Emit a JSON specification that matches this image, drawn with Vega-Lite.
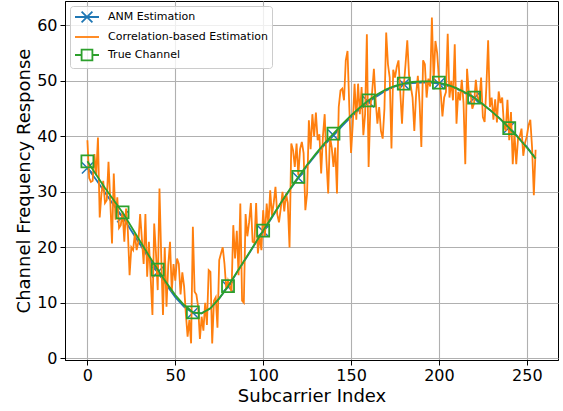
{
  "$schema": "https://vega.github.io/schema/vega-lite/v6.json",
  "width": 493,
  "height": 359,
  "autosize": {"type": "none"},
  "padding": {"left": 65, "top": 1, "right": 5, "bottom": 51},
  "background": "white",
  "config": {
    "font": "DejaVu Sans",
    "view": {"stroke": "black", "strokeWidth": 1},
    "axis": {
      "domainColor": "black", "domainWidth": 1,
      "tickColor": "black", "tickSize": 5, "tickWidth": 1,
      "labelFont": "DejaVu Sans", "labelFontSize": 16, "labelColor": "black",
      "titleFont": "DejaVu Sans", "titleFontSize": 18, "titleFontWeight": "normal", "titleColor": "black",
      "gridColor": "#b0b0b0", "gridWidth": 1.1
    }
  },
  "datasets": {
    "corr": [
      {"i":0,"v":39.3},{"i":1,"v":32.5},{"i":2,"v":31.8},{"i":3,"v":32.0},{"i":4,"v":36.8},{"i":5,"v":33.0},{"i":6,"v":39.8},{"i":7,"v":25.4},{"i":8,"v":29.7},{"i":9,"v":32.0},
      {"i":10,"v":28.0},{"i":11,"v":28.5},{"i":12,"v":35.4},{"i":13,"v":28.5},{"i":14,"v":20.7},{"i":15,"v":33.3},{"i":16,"v":25.0},{"i":17,"v":29.0},{"i":18,"v":23.5},{"i":19,"v":24.0},
      {"i":20,"v":26.5},{"i":21,"v":21.0},{"i":22,"v":27.0},{"i":23,"v":23.0},{"i":24,"v":15.0},{"i":25,"v":20.0},{"i":26,"v":19.5},{"i":27,"v":22.5},{"i":28,"v":19.5},{"i":29,"v":21.0},
      {"i":30,"v":26.0},{"i":31,"v":21.5},{"i":32,"v":17.0},{"i":33,"v":26.0},{"i":34,"v":14.7},{"i":35,"v":21.0},{"i":36,"v":14.5},{"i":37,"v":7.8},{"i":38,"v":24.3},{"i":39,"v":19.0},
      {"i":40,"v":12.3},{"i":41,"v":30.6},{"i":42,"v":18.3},{"i":43,"v":7.8},{"i":44,"v":20.0},{"i":45,"v":9.3},{"i":46,"v":16.8},{"i":47,"v":21.0},{"i":48,"v":12.0},{"i":49,"v":17.0},
      {"i":50,"v":14.0},{"i":51,"v":18.0},{"i":52,"v":17.0},{"i":53,"v":11.5},{"i":54,"v":15.5},{"i":55,"v":13.0},{"i":56,"v":8.1},{"i":57,"v":3.9},{"i":58,"v":6.9},{"i":59,"v":2.7},
      {"i":60,"v":23.7},{"i":61,"v":12.0},{"i":62,"v":11.5},{"i":63,"v":9.3},{"i":64,"v":3.5},{"i":65,"v":7.5},{"i":66,"v":5.0},{"i":67,"v":10.0},{"i":68,"v":6.0},{"i":69,"v":15.9},
      {"i":70,"v":15.6},{"i":71,"v":2.7},{"i":72,"v":10.4},{"i":73,"v":11.0},{"i":74,"v":5.5},{"i":75,"v":17.7},{"i":76,"v":18.9},{"i":77,"v":20.0},{"i":78,"v":17.0},{"i":79,"v":12.5},
      {"i":80,"v":14.0},{"i":81,"v":13.0},{"i":82,"v":12.0},{"i":83,"v":24.0},{"i":84,"v":18.0},{"i":85,"v":23.0},{"i":86,"v":15.0},{"i":87,"v":27.9},{"i":88,"v":10.4},{"i":89,"v":10.0},
      {"i":90,"v":26.0},{"i":91,"v":22.0},{"i":92,"v":24.5},{"i":93,"v":28.0},{"i":94,"v":21.0},{"i":95,"v":20.8},{"i":96,"v":28.0},{"i":97,"v":18.9},{"i":98,"v":22.0},{"i":99,"v":19.5},
      {"i":100,"v":26.7},{"i":101,"v":22.0},{"i":102,"v":27.9},{"i":103,"v":24.0},{"i":104,"v":30.3},{"i":105,"v":25.7},{"i":106,"v":28.0},{"i":107,"v":30.9},{"i":108,"v":26.0},{"i":109,"v":24.5},
      {"i":110,"v":27.0},{"i":111,"v":30.0},{"i":112,"v":26.5},{"i":113,"v":29.7},{"i":114,"v":28.0},{"i":115,"v":20.0},{"i":116,"v":38.7},{"i":117,"v":37.5},{"i":118,"v":34.5},{"i":119,"v":38.7},
      {"i":120,"v":33.0},{"i":121,"v":37.7},{"i":122,"v":39.0},{"i":123,"v":37.0},{"i":124,"v":26.7},{"i":125,"v":29.7},{"i":126,"v":42.9},{"i":127,"v":37.7},{"i":128,"v":44.0},{"i":129,"v":40.0},
      {"i":130,"v":44.3},{"i":131,"v":39.3},{"i":132,"v":40.4},{"i":133,"v":33.3},{"i":134,"v":40.0},{"i":135,"v":44.0},{"i":136,"v":35.7},{"i":137,"v":29.7},{"i":138,"v":40.0},{"i":139,"v":38.0},
      {"i":140,"v":34.5},{"i":141,"v":38.0},{"i":142,"v":29.7},{"i":143,"v":45.3},{"i":144,"v":48.3},{"i":145,"v":48.6},{"i":146,"v":46.5},{"i":147,"v":53.7},{"i":148,"v":55.4},{"i":149,"v":45.3},
      {"i":150,"v":37.0},{"i":151,"v":42.3},{"i":152,"v":49.5},{"i":153,"v":43.0},{"i":154,"v":49.5},{"i":155,"v":44.0},{"i":156,"v":48.9},{"i":157,"v":40.2},{"i":158,"v":44.0},{"i":159,"v":58.4},
      {"i":160,"v":34.5},{"i":161,"v":45.3},{"i":162,"v":48.0},{"i":163,"v":52.2},{"i":164,"v":46.5},{"i":165,"v":42.3},{"i":166,"v":45.3},{"i":167,"v":41.0},{"i":168,"v":39.6},{"i":169,"v":45.0},
      {"i":170,"v":58.7},{"i":171,"v":53.0},{"i":172,"v":50.6},{"i":173,"v":37.8},{"i":174,"v":52.0},{"i":175,"v":50.6},{"i":176,"v":52.5},{"i":177,"v":53.7},{"i":178,"v":48.0},{"i":179,"v":42.3},
      {"i":180,"v":49.0},{"i":181,"v":53.0},{"i":182,"v":57.3},{"i":183,"v":51.0},{"i":184,"v":49.0},{"i":185,"v":47.0},{"i":186,"v":41.0},{"i":187,"v":47.5},{"i":188,"v":50.9},{"i":189,"v":46.0},
      {"i":190,"v":38.1},{"i":191,"v":53.7},{"i":192,"v":53.0},{"i":193,"v":47.0},{"i":194,"v":50.4},{"i":195,"v":49.0},{"i":196,"v":61.4},{"i":197,"v":50.0},{"i":198,"v":57.2},{"i":199,"v":55.0},
      {"i":200,"v":50.4},{"i":201,"v":48.0},{"i":202,"v":43.6},{"i":203,"v":47.0},{"i":204,"v":48.0},{"i":205,"v":58.5},{"i":206,"v":47.0},{"i":207,"v":50.0},{"i":208,"v":46.5},{"i":209,"v":56.6},
      {"i":210,"v":42.3},{"i":211,"v":48.0},{"i":212,"v":46.5},{"i":213,"v":50.2},{"i":214,"v":46.0},{"i":215,"v":35.0},{"i":216,"v":52.2},{"i":217,"v":48.0},{"i":218,"v":47.8},{"i":219,"v":45.0},
      {"i":220,"v":46.0},{"i":221,"v":50.2},{"i":222,"v":47.0},{"i":223,"v":46.5},{"i":224,"v":50.6},{"i":225,"v":43.5},{"i":226,"v":42.6},{"i":227,"v":49.0},{"i":228,"v":57.3},{"i":229,"v":45.3},
      {"i":230,"v":47.0},{"i":231,"v":43.0},{"i":232,"v":46.7},{"i":233,"v":42.5},{"i":234,"v":48.1},{"i":235,"v":46.0},{"i":236,"v":47.0},{"i":237,"v":42.0},{"i":238,"v":41.0},{"i":239,"v":46.6},
      {"i":240,"v":39.3},{"i":241,"v":44.4},{"i":242,"v":35.0},{"i":243,"v":40.5},{"i":244,"v":35.0},{"i":245,"v":39.6},{"i":246,"v":40.0},{"i":247,"v":41.4},{"i":248,"v":36.5},{"i":249,"v":38.8},
      {"i":250,"v":40.0},{"i":251,"v":42.0},{"i":252,"v":43.0},{"i":253,"v":38.0},{"i":254,"v":29.4},{"i":255,"v":37.6}
    ],
    "curves": [
      {"i":0,"anm":34.3,"tru":35.5},{"i":5,"anm":32.2,"tru":33.1},{"i":10,"anm":29.9,"tru":30.7},{"i":15,"anm":27.6,"tru":28.5},
      {"i":20,"anm":25.5,"tru":26.3},{"i":25,"anm":23.0,"tru":23.7},{"i":30,"anm":20.5,"tru":21.1},{"i":35,"anm":18.0,"tru":18.5},
      {"i":40,"anm":15.5,"tru":16.0},{"i":45,"anm":13.2,"tru":13.6},{"i":50,"anm":11.0,"tru":11.4},{"i":55,"anm":9.3,"tru":9.6},
      {"i":60,"anm":8.2,"tru":8.3},{"i":65,"anm":8.1,"tru":8.1},{"i":70,"anm":9.0,"tru":9.0},{"i":75,"anm":10.8,"tru":10.8},
      {"i":80,"anm":12.9,"tru":13.0},{"i":85,"anm":15.4,"tru":15.5},{"i":90,"anm":17.9,"tru":18.0},{"i":95,"anm":20.4,"tru":20.5},
      {"i":100,"anm":22.9,"tru":23.0},{"i":105,"anm":25.4,"tru":25.5},{"i":110,"anm":27.9,"tru":28.0},{"i":115,"anm":30.3,"tru":30.4},
      {"i":120,"anm":32.5,"tru":32.7},{"i":125,"anm":34.7,"tru":34.9},{"i":130,"anm":36.7,"tru":36.9},{"i":135,"anm":38.5,"tru":38.8},
      {"i":140,"anm":40.2,"tru":40.5},{"i":145,"anm":41.9,"tru":42.2},{"i":150,"anm":43.5,"tru":43.8},{"i":155,"anm":44.9,"tru":45.2},
      {"i":160,"anm":46.2,"tru":46.5},{"i":165,"anm":47.3,"tru":47.6},{"i":170,"anm":48.3,"tru":48.5},{"i":175,"anm":49.0,"tru":49.1},
      {"i":180,"anm":49.4,"tru":49.5},{"i":185,"anm":49.6,"tru":49.8},{"i":190,"anm":49.7,"tru":49.9},{"i":195,"anm":49.7,"tru":49.9},
      {"i":200,"anm":49.5,"tru":49.7},{"i":205,"anm":49.1,"tru":49.3},{"i":210,"anm":48.6,"tru":48.7},{"i":215,"anm":47.8,"tru":47.9},
      {"i":220,"anm":46.9,"tru":47.0},{"i":225,"anm":45.8,"tru":45.8},{"i":230,"anm":44.5,"tru":44.5},{"i":235,"anm":43.1,"tru":43.1},
      {"i":240,"anm":41.6,"tru":41.5},{"i":245,"anm":39.9,"tru":39.8},{"i":250,"anm":38.1,"tru":38.0},{"i":255,"anm":36.1,"tru":36.0}
    ]
  },
  "encoding": {
    "x": {
      "field": "i", "type": "quantitative",
      "scale": {"domain": [-12.75, 267.75], "nice": false, "zero": false},
      "axis": {"values": [0, 50, 100, 150, 200, 250], "title": "Subcarrier Index", "labelPadding": 2, "titlePadding": 4, "grid": true}
    }
  },
  "layer": [
    {
      "data": {"name": "curves"},
      "mark": {"type": "line", "strokeWidth": 1.8},
      "encoding": {
        "y": {
          "field": "anm", "type": "quantitative",
          "scale": {"domain": [-0.3, 64.4], "nice": false, "zero": false},
          "axis": {"values": [0, 10, 20, 30, 40, 50, 60], "title": "Channel Frequency Response", "labelPadding": 3, "titlePadding": 3, "grid": true}
        },
        "color": {
          "datum": "ANM Estimation",
          "scale": {"domain": ["ANM Estimation", "Correlation-based Estimation", "True Channel"], "range": ["#1f77b4", "#ff7f0e", "#2ca02c"]},
          "legend": {
            "title": null,
            "orient": "top-left",
            "offset": 5,
            "padding": 4,
            "fillColor": "rgba(255,255,255,0.8)",
            "strokeColor": "#cccccc",
            "cornerRadius": 3,
            "symbolSize": 144,
            "symbolStrokeWidth": 1.8,
            "labelFont": "DejaVu Sans",
            "labelFontSize": 11,
            "labelColor": "black",
            "labelOffset": 20,
            "rowPadding": 4,
            "encode": {
              "symbols": {
                "update": {
                  "shape": {"signal": "datum.value === 'ANM Estimation' ? 'M-1,0H3M0.1,-0.9L1.9,0.9M0.1,0.9L1.9,-0.9' : (datum.value === 'True Channel' ? 'M-1,0H0.1M1.9,0H3M0.1,-0.9H1.9V0.9H0.1Z' : 'M-1,0H3')"},
                  "fill": {"value": "transparent"},
                  "stroke": {"scale": "color", "field": "value"},
                  "strokeWidth": {"value": 1.8},
                  "opacity": {"value": 1}
                }
              }
            }
          }
        }
      }
    },
    {
      "data": {"name": "curves"},
      "transform": [{"filter": "datum.i % 20 == 0"}],
      "mark": {"type": "point", "shape": "M-1,-1L1,1M-1,1L1,-1", "filled": false, "size": 121, "strokeWidth": 1.5, "opacity": 1},
      "encoding": {
        "y": {"field": "anm", "type": "quantitative"},
        "color": {"datum": "ANM Estimation"}
      }
    },
    {
      "data": {"name": "corr"},
      "mark": {"type": "line", "strokeWidth": 1.8},
      "encoding": {
        "y": {"field": "v", "type": "quantitative"},
        "color": {"datum": "Correlation-based Estimation"}
      }
    },
    {
      "data": {"name": "curves"},
      "mark": {"type": "line", "strokeWidth": 1.8},
      "encoding": {
        "y": {"field": "tru", "type": "quantitative"},
        "color": {"datum": "True Channel"}
      }
    },
    {
      "data": {"name": "curves"},
      "transform": [{"filter": "datum.i % 20 == 0"}],
      "mark": {"type": "point", "shape": "square", "filled": false, "size": 144, "strokeWidth": 1.8, "opacity": 1},
      "encoding": {
        "y": {"field": "tru", "type": "quantitative"},
        "color": {"datum": "True Channel"}
      }
    }
  ]
}
